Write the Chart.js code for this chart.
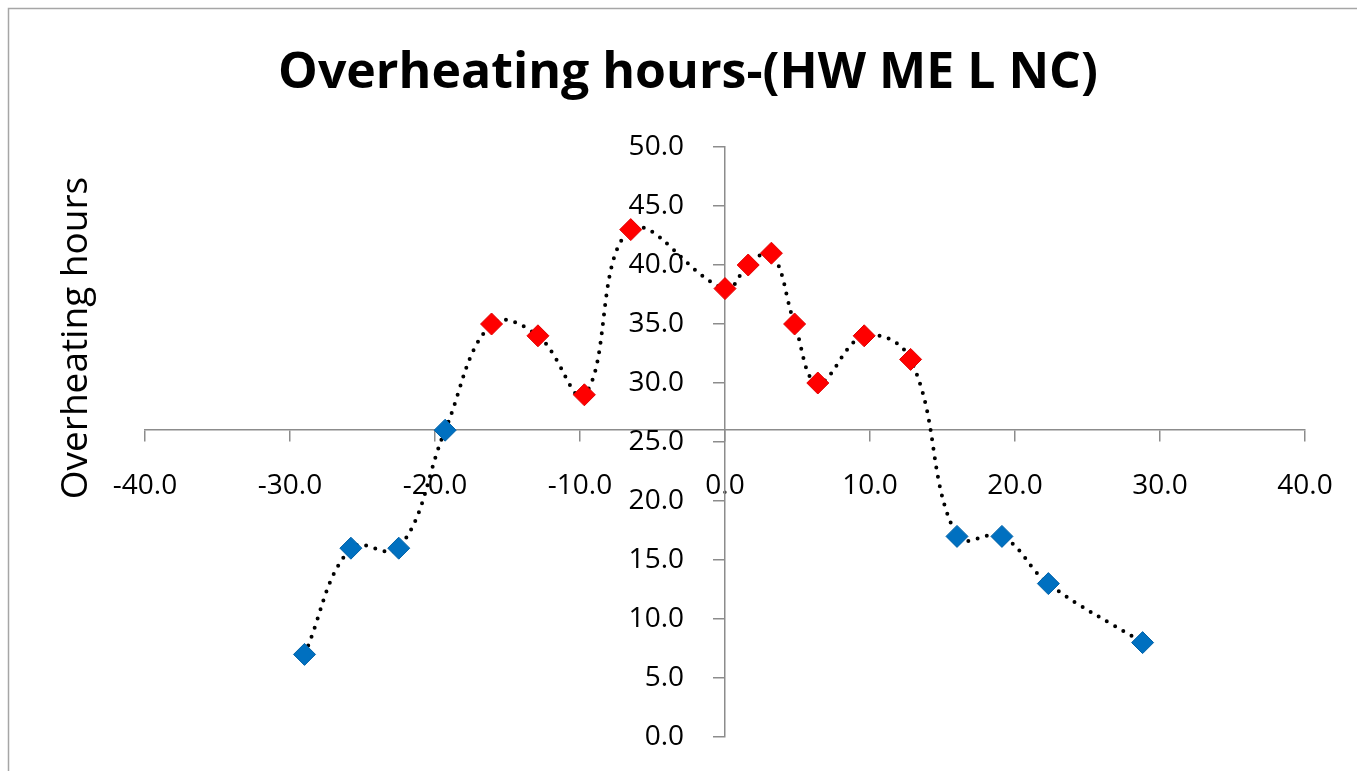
<!DOCTYPE html>
<html lang="en">
<head>
  <meta charset="UTF-8" />
  <title>Overheating hours</title>
  <script src="https://cdn.jsdelivr.net/npm/chart.js"></script>
  <style>
    html, body {
      margin: 0;
      padding: 0;
      background: #fff;
    }

    .wrap {
      width: 1357px;
      height: 771px;
    }
  </style>
</head>
<body>
  <div class="wrap">
    <canvas id="overheatChart" width="1357" height="771"></canvas>
  </div>

  <script>
    const chartTitle = 'Overheating hours-(HW ME L NC)';
    const yAxisTitle = 'Overheating hours';

    // offset (x) against overheating hours (y)
    const xValues = [-29.0, -25.8, -22.5, -19.3, -16.1, -12.9, -9.7, -6.5, 0.0, 1.6, 3.2, 4.8, 6.4, 9.6, 12.8, 16.0, 19.1, 22.3, 28.8];
    const yValues = [7, 16, 16, 26, 35, 34, 29, 43, 38, 40, 41, 35, 30, 34, 32, 17, 17, 13, 8];

    // axis ranges; the x axis crosses the vertical one at 26
    const xRange = [-40, 40];
    const yRange = [0, 50];
    const xAxisCrossesAt = 26;
    const highThreshold = 28;

    const points = xValues.map((x, i) => ({ x: x, y: yValues[i] }));

    const tickFont = { family: "'Open Sans', sans-serif", size: 28 };
    const axisGrey = '#8c8c8c';

    // frame, chart title and the vertical axis title (kept at the left edge,
    // away from the centred axis)
    const decorPlugin = {
      id: 'decor',
      beforeDraw(chart) {
        const c = chart.ctx;
        c.save();
        c.strokeStyle = '#a6a6a6';
        c.lineWidth = 1.5;
        c.strokeRect(8.5, 8.5, chart.width + 20, chart.height + 20);
        c.restore();
      },
      afterDraw(chart) {
        const c = chart.ctx;
        c.save();
        c.fillStyle = '#000';
        c.textAlign = 'center';
        c.textBaseline = 'alphabetic';
        c.font = "bold 50px 'Open Sans', sans-serif";
        c.fillText(chartTitle, 688, 88);

        c.translate(76, 338);
        c.rotate(-Math.PI / 2);
        c.font = "37px 'Open Sans', sans-serif";
        c.textBaseline = 'middle';
        c.fillText(yAxisTitle, 0, 0);
        c.restore();
      }
    };

    // centred axes should not reserve layout space around the plot
    const noBox = s => {
      s.width = s.isHorizontal() ? s.width : 0;
      s.height = s.isHorizontal() ? 0 : s.height;
      s.paddingTop = 0;
      s.paddingBottom = 0;
      s.paddingLeft = 0;
      s.paddingRight = 0;
    };

    new Chart(document.getElementById('overheatChart'), {
      type: 'scatter',
      data: {
        datasets: [{
          data: points,
          showLine: true,
          tension: 0.4,
          borderColor: '#000',
          borderWidth: 4,
          borderDash: [0, 9.5],
          borderCapStyle: 'round',
          pointStyle: 'rectRot',
          pointRadius: 11,
          pointHoverRadius: 11,
          pointBorderWidth: 1,
          pointBackgroundColor: ctx => ctx.raw && ctx.raw.y > highThreshold ? '#ff0000' : '#0070c0',
          pointBorderColor: ctx => ctx.raw && ctx.raw.y > highThreshold ? '#e00000' : '#0062a8'
        }]
      },
      options: {
        responsive: false,
        animation: false,
        layout: {
          padding: { left: 145, right: 52, top: 147, bottom: 34 }
        },
        plugins: {
          legend: { display: false },
          tooltip: { enabled: false },
          title: { display: false }
        },
        scales: {
          x: {
            type: 'linear',
            min: xRange[0],
            max: xRange[1],
            position: { y: xAxisCrossesAt },
            afterFit: noBox,
            ticks: {
              stepSize: 10,
              color: '#000',
              font: tickFont,
              padding: 28,
              maxRotation: 0,
              callback: v => v.toFixed(1)
            },
            grid: { drawOnChartArea: false, drawTicks: true, tickLength: 11, color: axisGrey, lineWidth: 1.5 },
            border: { display: true, color: axisGrey, width: 1.5 }
          },
          y: {
            type: 'linear',
            min: yRange[0],
            max: yRange[1],
            // x range is symmetric, so the centre of the plot is x = 0
            position: 'center',
            afterFit: noBox,
            ticks: {
              stepSize: 5,
              color: '#000',
              font: tickFont,
              padding: 30,
              callback: v => v.toFixed(1)
            },
            grid: { drawOnChartArea: false, drawTicks: true, tickLength: 11, color: axisGrey, lineWidth: 1.5 },
            border: { display: true, color: axisGrey, width: 1.5 }
          }
        }
      },
      plugins: [decorPlugin]
    });
  </script>
</body>
</html>
